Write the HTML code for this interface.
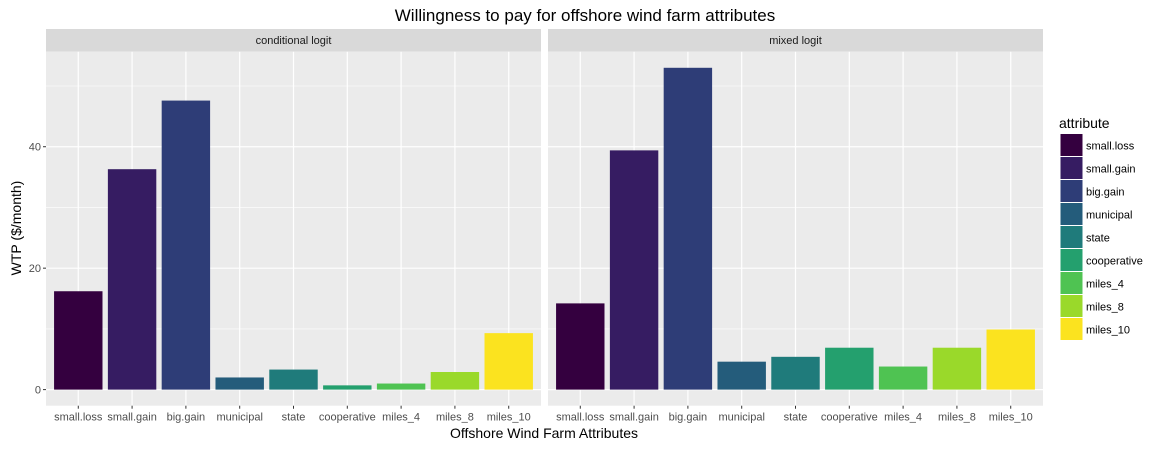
<!DOCTYPE html>
<html><head><meta charset="utf-8"><style>
body{margin:0;background:#fff;}
svg text{font-family:"Liberation Sans",Arial,sans-serif;}
</style></head><body>
<svg id="chart" width="1171" height="448" xmlns="http://www.w3.org/2000/svg"></svg>
<script>
const categories=["small.loss","small.gain","big.gain","municipal","state","cooperative","miles_4","miles_8","miles_10"];
const colors=["#34003f","#361c62","#2e3d77","#245c7b","#1f7b7b","#24a06e","#4fc352","#9ad92a","#fbe31f"];
const panels=["conditional logit","mixed logit"];
const condValues=[16.2,36.3,47.6,2.0,3.3,0.7,1.0,2.9,9.3];
const mixedValues=[14.2,39.4,53.0,4.6,5.4,6.9,3.8,6.9,9.9];
const yTicks=[0,20,40];
const yMinor=[10,30,50];
const svg=document.getElementById('chart');
const NS="http://www.w3.org/2000/svg";
function mk(tag,attrs,parent){const e=document.createElementNS(NS,tag);for(const k in attrs)e.setAttribute(k,attrs[k]);(parent||svg).appendChild(e);return e;}
const plotTop=51.7,plotBottom=405.7;
const yMin=-2.65,yMax=55.65;
function y(v){return plotBottom-(v-yMin)/(yMax-yMin)*(plotBottom-plotTop);}
const panelX=[[46,541],[548,1043]];
const series=[condValues,mixedValues];
let t=mk('text',{x:585,y:21,'font-size':17,'text-anchor':'middle',fill:'#000'});


t.textContent="Willingness to pay for offshore wind farm attributes";
panels.forEach((p,pi)=>{
  const [x0,x1]=panelX[pi];
  const step=(x1-x0)/9.2;
  const x=i=>x0+(i+0.6)*step;
  const g=mk('g',{});
  
  
  mk('rect',{x:x0,y:29,width:x1-x0,height:plotTop-29,fill:'#d9d9d9'},g);
  const st=mk('text',{x:(x0+x1)/2,y:44,'font-size':11,'text-anchor':'middle',fill:'#1a1a1a'},g);
  
  
  st.textContent=p;
  mk('rect',{x:x0,y:plotTop,width:x1-x0,height:plotBottom-plotTop,fill:'#ebebeb'},g);
  yMinor.forEach(v=>mk('line',{x1:x0,x2:x1,y1:y(v),y2:y(v),stroke:'#fff','stroke-width':0.6},g));
  yTicks.forEach(v=>mk('line',{x1:x0,x2:x1,y1:y(v),y2:y(v),stroke:'#fff','stroke-width':1.2},g));
  categories.forEach((c,i)=>mk('line',{x1:x(i),x2:x(i),y1:plotTop,y2:plotBottom,stroke:'#fff','stroke-width':1.2},g));
  series[pi].forEach((v,i)=>{
    const b=mk('rect',{x:x(i)-0.45*step,y:y(v),width:0.9*step,height:y(0)-y(v),fill:colors[i]},g);
    
    
  });
  categories.forEach((c,i)=>{
    mk('line',{x1:x(i),x2:x(i),y1:plotBottom,y2:plotBottom+3,stroke:'#333'},g);
    const l=mk('text',{x:x(i),y:plotBottom+15,'font-size':11,'text-anchor':'middle',fill:'#4d4d4d'},g);
    
    
    l.textContent=c;
  });
});
yTicks.forEach(v=>{
  mk('line',{x1:43,x2:46,y1:y(v),y2:y(v),stroke:'#333'});
  const l=mk('text',{x:41,y:y(v)+4,'font-size':11,'text-anchor':'end',fill:'#4d4d4d'});
  
  
  l.textContent=v;
});
let yt=mk('text',{x:21,y:228,'font-size':14,'text-anchor':'middle',fill:'#000',transform:'rotate(-90 21 228)'});


yt.textContent="WTP ($/month)";
let xt=mk('text',{x:544,y:438,'font-size':14,'text-anchor':'middle',fill:'#000'});


xt.textContent="Offshore Wind Farm Attributes";
const lg=mk('g',{});


let lt=mk('text',{x:1059,y:128,'font-size':14,fill:'#000'},lg);


lt.textContent="attribute";
categories.forEach((c,i)=>{
  const e=mk('g',{},lg);
  
  
  mk('rect',{x:1060.5,y:134+i*23,width:22,height:22,fill:colors[i]},e);
  const tx=mk('text',{x:1086,y:134+i*23+15.5,'font-size':11,fill:'#000'},e);
  tx.textContent=c;
});
</script>
</body></html>
